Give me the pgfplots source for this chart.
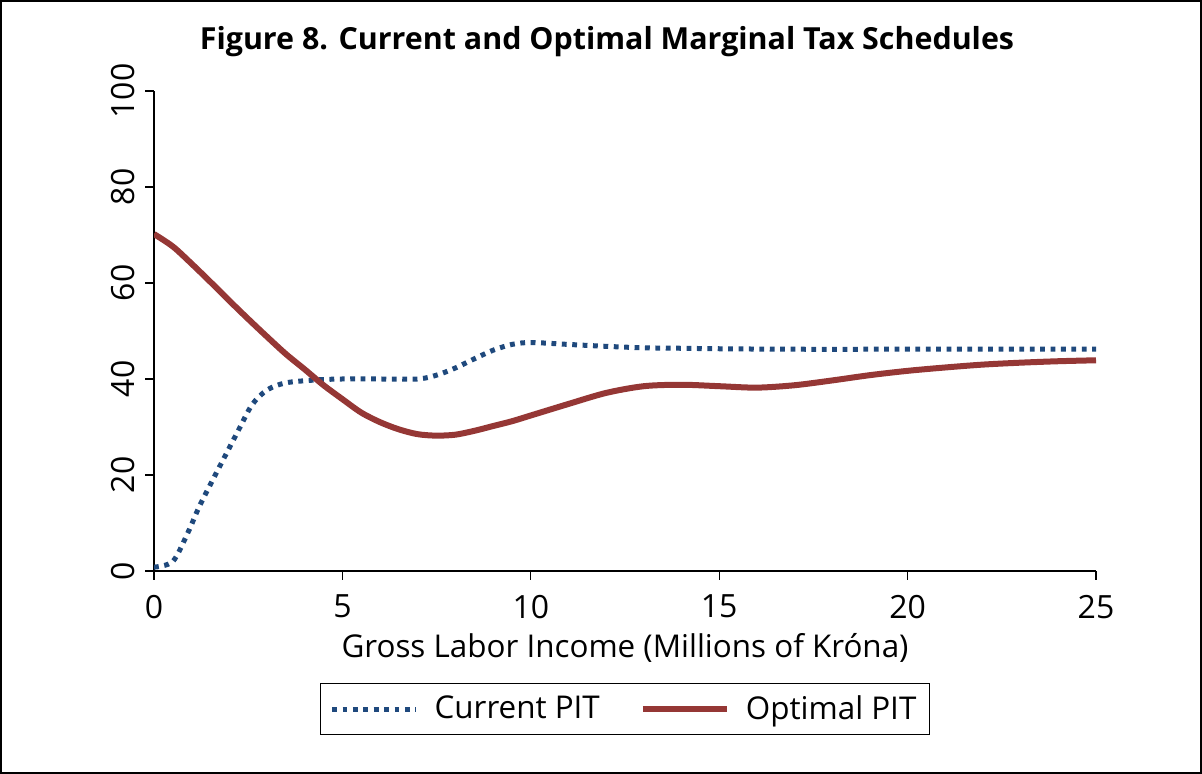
\documentclass[border=0pt]{standalone}
\usepackage{pgfplots}
\pgfplotsset{compat=1.18}
\usepackage{fontspec}
\setmainfont{Open Sans}
\definecolor{curblue}{HTML}{1F497D}
\definecolor{optred}{HTML}{953735}
\begin{document}
\begin{tikzpicture}
\draw[line width=0.8pt] (0.4pt,0.4pt) rectangle (600.6pt,386.6pt);
\node[font=\bfseries\fontsize{15.2}{18}\selectfont] at (303.5pt,366pt) {Figure 8. Current and Optimal Marginal Tax Schedules};
\begin{axis}[
  at={(77pt,101.5pt)}, anchor=south west,
  scale only axis, width=471pt, height=240pt,
  xmin=0, xmax=25, ymin=0, ymax=100,
  xtick={0,5,...,25}, ytick={0,20,...,100},
  axis x line*=bottom, axis y line*=left,
  axis line style={line width=0.6pt},
  tick style={line width=0.6pt, black},
  tick align=outside, major tick length=4.5pt,
  ticklabel style={font=\fontsize{16}{19}\selectfont},
  /pgf/number format/assume math mode=true,
  yticklabel style={xshift=-1.5pt, rotate=90, anchor=south},
  xticklabel style={yshift=-4pt},
  xlabel={Gross Labor Income (Millions of Króna)},
  xlabel style={font=\fontsize{15.7}{18}\selectfont, at={(axis description cs:0.5,-0.16)}, anchor=center},
  legend style={at={(0.5,-0.2875)}, anchor=center, draw=black, line width=0.6pt,
    font=\fontsize{15.7}{18}\selectfont, legend columns=2, inner xsep=4.5pt, inner ysep=4pt,
    /tikz/every odd column/.append style={column sep=6pt},
    /tikz/every even column/.append style={column sep=18pt}},
  legend image code/.code={\draw[#1] plot coordinates {(0pt,0pt) (42pt,0pt)};},
]
\addplot[curblue, line width=2.5pt, dash pattern=on 2.4pt off 2.8pt, smooth, mark=none] coordinates {
(0,0.8) (0.5,2) (0.9,8) (1.2,13.4) (1.6,19.6) (2.2,28.7) (2.6,34.6) (3,37.7) (3.5,39.2) (4.3,39.8) (5,40) (6,40) (7,40) (7.5,40.8) (8,42.3) (8.5,44.2) (9,46) (9.5,47.2) (10,47.6) (11,47.2) (12,46.8) (13,46.5) (14,46.4) (15,46.3) (17,46.2) (20,46.2) (25,46.2)
};
\addlegendentry{Current PIT}
\addplot[optred, line width=3pt, smooth, mark=none] coordinates {
(0,70.2) (0.5,67.6) (1,64) (1.5,60.2) (2,56.3) (2.5,52.5) (3,48.8) (3.5,45.2) (4,42) (4.5,38.7) (5,35.8) (5.5,33) (6,31) (6.5,29.5) (7,28.5) (7.5,28.2) (8,28.4) (8.5,29.2) (9,30.2) (9.5,31.2) (10,32.4) (11,34.8) (12,37.1) (13,38.5) (14,38.8) (15,38.5) (16,38.2) (17,38.7) (18,39.7) (19,40.8) (20,41.7) (21,42.4) (22,43) (23,43.4) (24,43.7) (25,43.9)
};
\addlegendentry{Optimal PIT}
\end{axis}
\end{tikzpicture}
\end{document}
